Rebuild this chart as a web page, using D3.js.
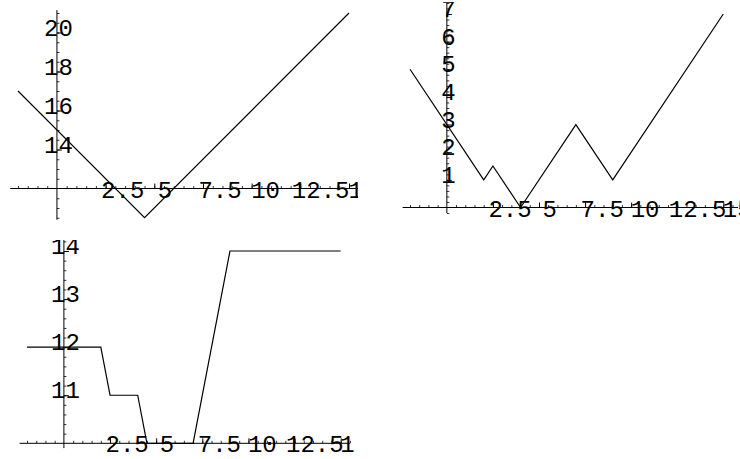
<!DOCTYPE html>
<html>
<head>
<meta charset="utf-8">
<script src="https://cdn.jsdelivr.net/npm/d3@7"></script>
<style>
  html, body { margin: 0; padding: 0; background: #fff; }
  svg { display: block; }
  .lbl { font-family: "Liberation Mono", "DejaVu Sans Mono", monospace; font-size: 24px; fill: #000; }
</style>
</head>
<body>
<svg id="chart" width="740" height="459"></svg>
<script>
// Sample points of the three piecewise curves (x, y)
const xsA = [-2, 4.5, 15];
const ysA = [17, 10.5, 21];

const xsB = [-2, 2, 2.5, 4, 7, 9, 15];
const ysB = [5, 1, 1.5, 0, 3, 1, 7];

const xsC = [-2, 2, 2.5, 4, 4.5, 7, 9, 15];
const ysC = [12, 12, 11, 11, 10, 10, 14, 14];

// Tick values and labels
const xMajorTicks = [2.5, 5, 7.5, 10, 12.5, 15];
const xTickLabels = ["2.5", "5", "7.5", "10", "12.5", "15"];
const yTicksA = [14, 16, 18, 20];
const yTicksB = [1, 2, 3, 4, 5, 6, 7];
const yTicksC = [11, 12, 13, 14];

const svg = d3.select("#chart");

// Panel layout: scale ranges, axis origin and extents, clip box
const panels = [
  {
    xs: xsA, ys: ysA, yTicks: yTicksA, yMinorStep: 0.5,
    xRange: [18, 349], yDomain: [12, 21], yRange: [188.5, 13],
    origin: [0, 12], xExtent: [-2.4, 15.5], yExtent: [10.4, 21.15],
    clip: [0, 0, 358, 228]
  },
  {
    xs: xsB, ys: ysB, yTicks: yTicksB, yMinorStep: 0.2,
    xRange: [410, 723.3], yDomain: [0, 7], yRange: [207.5, 14],
    origin: [0, 0], xExtent: [-2.4, 15.8], yExtent: [-0.2, 7.4],
    clip: [396, 2, 344, 226]
  },
  {
    xs: xsC, ys: ysC, yTicks: yTicksC, yMinorStep: 0.2,
    xRange: [27, 340.7], yDomain: [10, 14], yRange: [443.3, 251],
    origin: [0, 10], xExtent: [-2.4, 15.5], yExtent: [9.9, 14.3],
    clip: [0, 240, 355, 219]
  }
];

const defs = svg.append("defs");

panels.forEach((p, i) => {
  const x = d3.scaleLinear().domain([-2, 15]).range(p.xRange);
  const y = d3.scaleLinear().domain(p.yDomain).range(p.yRange);

  defs.append("clipPath").attr("id", "clip" + i)
    .append("rect")
    .attr("x", p.clip[0]).attr("y", p.clip[1])
    .attr("width", p.clip[2]).attr("height", p.clip[3]);

  const g = svg.append("g").attr("clip-path", `url(#clip${i})`);

  const ax = x(p.origin[0]);
  const ay = y(p.origin[1]);

  // Axis lines
  g.append("line")
    .attr("x1", x(p.xExtent[0])).attr("x2", x(p.xExtent[1]))
    .attr("y1", ay).attr("y2", ay)
    .attr("stroke", "#000").attr("stroke-width", 1);
  g.append("line")
    .attr("x1", ax).attr("x2", ax)
    .attr("y1", y(p.yExtent[0])).attr("y2", y(p.yExtent[1]))
    .attr("stroke", "#000").attr("stroke-width", 1);

  // Minor ticks
  const xMinor = d3.range(-2.0, p.xExtent[1] + 1e-9, 0.5).filter(v => Math.abs(v) > 1e-9);
  const yMinor = d3.range(Math.ceil(p.yExtent[0] / p.yMinorStep) * p.yMinorStep, p.yExtent[1] + 1e-9, p.yMinorStep)
    .filter(v => Math.abs(v - p.origin[1]) > 1e-9);

  const xMinorAxis = d3.axisBottom(x).tickValues(xMinor).tickSize(-2.5).tickFormat("");
  const yMinorAxis = d3.axisLeft(y).tickValues(yMinor).tickSize(-2.5).tickFormat("");

  const gxm = g.append("g").attr("transform", `translate(0,${ay})`).call(xMinorAxis);
  const gym = g.append("g").attr("transform", `translate(${ax},0)`).call(yMinorAxis);
  [gxm, gym].forEach(s => {
    s.select(".domain").remove();
    s.selectAll("line").attr("stroke", "#000").attr("stroke-width", 0.8);
  });

  // Major ticks with labels
  const xAxis = d3.axisBottom(x).tickValues(xMajorTicks).tickSize(-5)
    .tickFormat((d, k) => xTickLabels[k]);
  const gx = g.append("g").attr("transform", `translate(0,${ay})`).call(xAxis);
  gx.select(".domain").remove();
  gx.selectAll("line").attr("stroke", "#000").attr("stroke-width", 1);
  gx.selectAll("text")
    .attr("class", "lbl")
    .attr("font-family", null).attr("font-size", null)
    .attr("fill", "#000")
    .attr("text-anchor", "start")
    .attr("dy", null)
    .attr("y", 9)
    .attr("x", function () { return 7 - 4 * this.textContent.length; });

  const yAxis = d3.axisLeft(y).tickValues(p.yTicks).tickSize(-5).tickFormat(d3.format("d"));
  const gy = g.append("g").attr("transform", `translate(${ax},0)`).call(yAxis);
  gy.select(".domain").remove();
  gy.selectAll("line").attr("stroke", "#000").attr("stroke-width", 1);
  gy.selectAll("text")
    .attr("class", "lbl")
    .attr("font-family", null).attr("font-size", null)
    .attr("fill", "#000")
    .attr("text-anchor", "middle")
    .attr("dy", null)
    .attr("x", 1.5)
    .attr("y", 2.5);

  // Curve
  const line = d3.line().x(d => x(d[0])).y(d => y(d[1]));
  g.append("path")
    .datum(d3.zip(p.xs, p.ys))
    .attr("d", line)
    .attr("fill", "none")
    .attr("stroke", "#000")
    .attr("stroke-width", 1.2)
    .attr("stroke-linejoin", "miter");
});
</script>
</body>
</html>
